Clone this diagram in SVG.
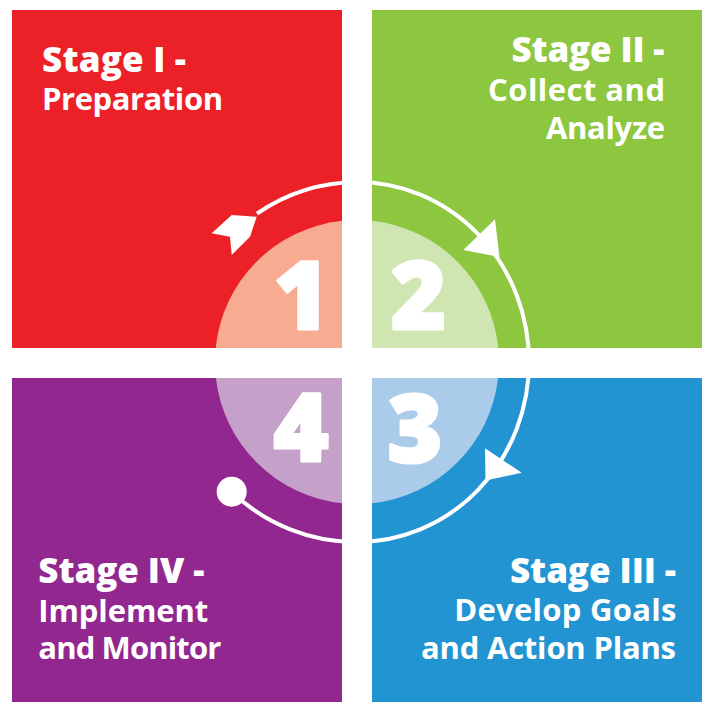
<svg xmlns="http://www.w3.org/2000/svg" width="716" height="714" viewBox="0 0 716 714">
<style>
.h{font-family:"Open Sans","Liberation Sans",sans-serif;font-weight:800;font-size:35px;fill:#fff}
.s{font-family:"Open Sans","Liberation Sans",sans-serif;font-weight:700;font-size:31px;fill:#fff}
.n{font-family:"Open Sans","Liberation Sans",sans-serif;font-weight:800;font-size:94px;fill:#fff;stroke:#fff;stroke-width:3;stroke-linejoin:round;text-anchor:middle}
.arc{fill:none;stroke:#fff;stroke-width:4}
.w{fill:#fff}
</style>
<rect width="716" height="714" fill="#fff"/>
<g id="stage1">
<rect x="12" y="10" width="330" height="338" fill="#EC2027"/>
<path d="M342,220.8 A142,142 0 0 0 215.7,348 L342,348 Z" fill="#F7AC92"/>
<text class="n" x="301.5" y="329">1</text>
<text class="h" x="42" y="72" textLength="144" lengthAdjust="spacing">Stage I -</text>
<text class="s" x="42" y="110" textLength="181" lengthAdjust="spacing">Preparation</text>
</g>
<g id="stage2">
<rect x="372" y="10" width="330" height="338" fill="#8DC63F"/>
<path d="M372,220.8 A142,142 0 0 1 498.3,348 L372,348 Z" fill="#D0E6B2"/>
<text class="n" x="418.5" y="329">2</text>
<text class="h" x="511.5" y="62" textLength="153" lengthAdjust="spacing">Stage II -</text>
<text class="s" x="488" y="101" textLength="177" lengthAdjust="spacing">Collect and</text>
<text class="s" x="546" y="138.5" textLength="119" lengthAdjust="spacing">Analyze</text>
</g>
<g id="stage3">
<rect x="372" y="378" width="330" height="324" fill="#2394D2"/>
<path d="M498.1,378 A142,142 0 0 1 372,503.2 L372,378 Z" fill="#ABCBEA"/>
<text class="n" x="415" y="462">3</text>
<text class="h" x="510" y="583" textLength="166" lengthAdjust="spacing">Stage III -</text>
<text class="s" x="454.3" y="621" textLength="222" lengthAdjust="spacing">Develop Goals</text>
<text class="s" x="421" y="659" textLength="255" lengthAdjust="spacing">and Action Plans</text>
</g>
<g id="stage4">
<rect x="12" y="378" width="330" height="324" fill="#92278F"/>
<path d="M215.9,378 A142,142 0 0 0 342,503.2 L342,378 Z" fill="#C5A0C9"/>
<text class="n" x="301" y="461">4</text>
<text class="h" x="38.3" y="583" textLength="166" lengthAdjust="spacing">Stage IV -</text>
<text class="s" x="38.3" y="621.5" textLength="170" lengthAdjust="spacing">Implement</text>
<text class="s" x="38.3" y="659" textLength="183" lengthAdjust="spacing">and Monitor</text>
</g>
<g id="connectors">
<path class="arc" d="M231.7,491.7 A180,180 0 0 0 357,542 A172,180 0 0 0 529,362 A172,180 0 0 0 357,182 A180,180 0 0 0 257,213.6"/>
<polygon class="w" points="211.7,233.3 231.7,215 256.7,216.7 250,236.7 231.7,255 230,236.7"/>
<polygon class="w" points="463.3,250 495,219.3 499.5,257"/>
<polygon class="w" points="485,448.3 521.7,472.7 485.5,480.5"/>
<circle class="w" cx="231.7" cy="491.7" r="15"/>
</g>
</svg>
